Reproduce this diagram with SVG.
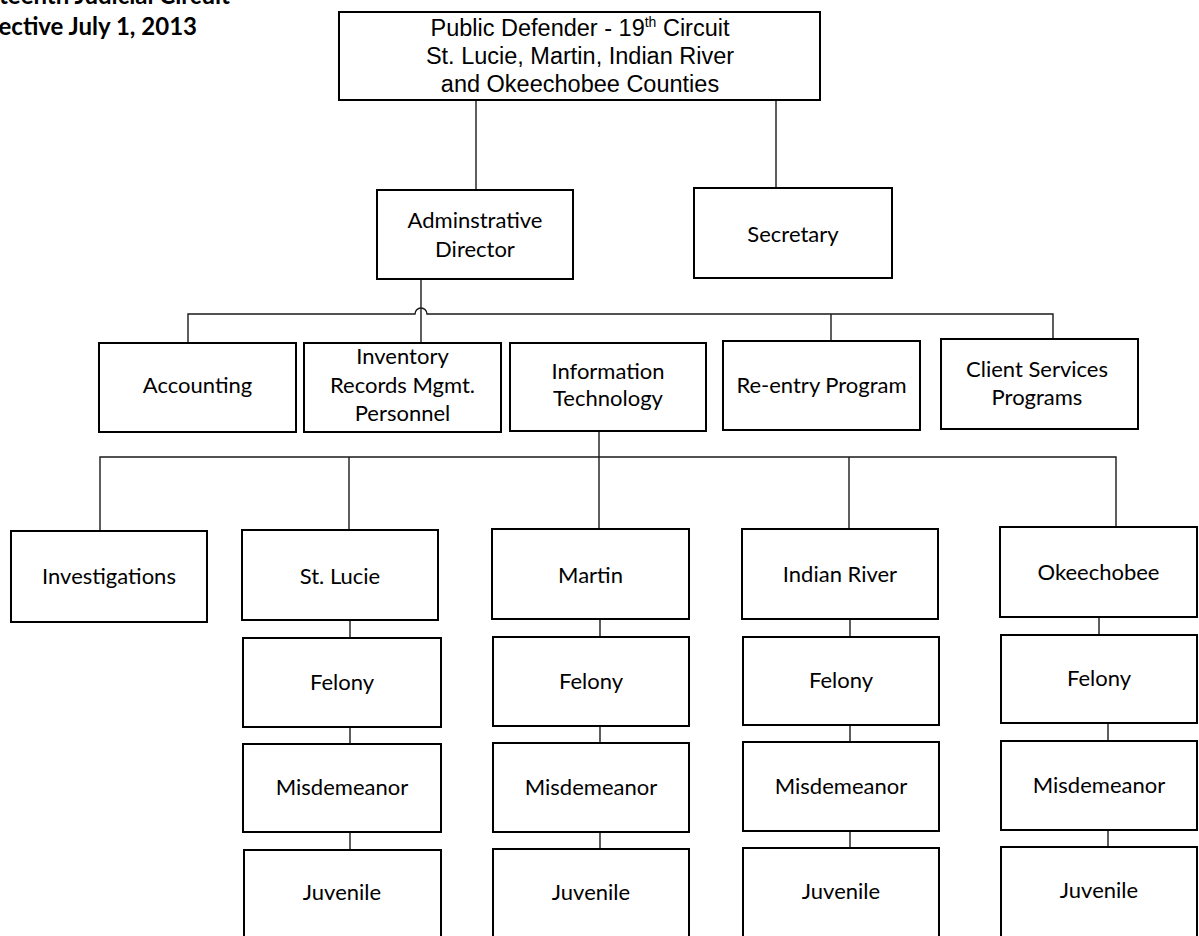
<svg xmlns="http://www.w3.org/2000/svg" width="1199" height="936" viewBox="0 0 1199 936">
  <style>
    .box { fill: #fff; stroke: #000; stroke-width: 2; }
    .lbl { font-family: Lato, "Open Sans", "Liberation Sans", sans-serif; font-size: 22px; fill: #000; text-anchor: middle; }
    .head { font-family: "Liberation Sans", Arial, sans-serif; font-size: 23.5px; fill: #000; text-anchor: middle; }
    .title { font-family: Lato, "Liberation Sans", sans-serif; font-weight: bold; font-size: 24px; fill: #000; text-anchor: end; }
    .wire { fill: none; stroke: #1a1a1a; stroke-width: 1.4; }
  </style>
  <rect width="1199" height="936" fill="#fff"/>

  <!-- heading, partly cut off at the page edge -->
  <g id="title">
    <text class="title" x="230" y="4">Nineteenth Judicial Circuit</text>
    <text class="title" x="197" y="35">Effective July 1, 2013</text>
  </g>

  <!-- connectors -->
  <g id="connectors" class="wire">
    <path d="M476 100V190"/>
    <path d="M776 100V188"/>
    <path d="M421 279V343"/>
    <path d="M188 343V314H415A6 6 0 0 1 427 314H1053V339"/>
    <path d="M831 314V341"/>
    <path d="M599 431V457"/>
    <path d="M100 531V457H1116V527"/>
    <path d="M349 457V530"/>
    <path d="M599 457V529"/>
    <path d="M849 457V529"/>
    <path d="M350 620V638M350 727V744M350 832V850"/>
    <path d="M600 619V637M600 726V743M600 832V849"/>
    <path d="M850 619V637M850 725V742M850 831V848"/>
    <path d="M1099 617V635M1108 723V741M1108 830V847"/>
  </g>

  <g id="public-defender">
    <rect class="box" x="339" y="12" width="481" height="88"/>
    <text class="head" x="580" y="36">Public Defender - 19<tspan font-size="14" dy="-9">th</tspan><tspan dy="9"> Circuit</tspan></text>
    <text class="head" x="580" y="64">St. Lucie, Martin, Indian River</text>
    <text class="head" x="580" y="92">and Okeechobee Counties</text>
  </g>

  <g id="admin-director">
    <rect class="box" x="377" y="190" width="196" height="89"/>
    <text class="lbl" x="475" y="228">Adminstrative</text>
    <text class="lbl" x="475" y="257">Director</text>
  </g>

  <g id="secretary">
    <rect class="box" x="694" y="188" width="198" height="90"/>
    <text class="lbl" x="793" y="242">Secretary</text>
  </g>

  <g id="accounting">
    <rect class="box" x="99" y="343" width="197" height="89"/>
    <text class="lbl" x="197.5" y="393">Accounting</text>
  </g>

  <g id="inventory">
    <rect class="box" x="304" y="343" width="197" height="89"/>
    <text class="lbl" x="402.5" y="364">Inventory</text>
    <text class="lbl" x="402.5" y="393">Records Mgmt.</text>
    <text class="lbl" x="402.5" y="421">Personnel</text>
  </g>

  <g id="info-tech">
    <rect class="box" x="510" y="343" width="196" height="88"/>
    <text class="lbl" x="608" y="379">Information</text>
    <text class="lbl" x="608" y="406">Technology</text>
  </g>

  <g id="reentry">
    <rect class="box" x="723" y="341" width="197" height="89"/>
    <text class="lbl" x="821.5" y="393">Re-entry Program</text>
  </g>

  <g id="client-services">
    <rect class="box" x="941" y="339" width="197" height="90"/>
    <text class="lbl" x="1037" y="377">Client Services</text>
    <text class="lbl" x="1037" y="405">Programs</text>
  </g>

  <g id="investigations">
    <rect class="box" x="11" y="531" width="196" height="91"/>
    <text class="lbl" x="109" y="584">Investigations</text>
  </g>

  <g id="st-lucie">
    <rect class="box" x="242" y="530" width="196" height="90"/>
    <text class="lbl" x="340" y="584">St. Lucie</text>
  </g>
  <g id="st-lucie-felony">
    <rect class="box" x="243" y="638" width="198" height="89"/>
    <text class="lbl" x="342" y="690">Felony</text>
  </g>
  <g id="st-lucie-misdemeanor">
    <rect class="box" x="243" y="744" width="198" height="88"/>
    <text class="lbl" x="342" y="795">Misdemeanor</text>
  </g>
  <g id="st-lucie-juvenile">
    <rect class="box" x="244" y="850" width="197" height="92"/>
    <text class="lbl" x="342" y="900">Juvenile</text>
  </g>

  <g id="martin">
    <rect class="box" x="492" y="529" width="197" height="90"/>
    <text class="lbl" x="590.5" y="583">Martin</text>
  </g>
  <g id="martin-felony">
    <rect class="box" x="493" y="637" width="196" height="89"/>
    <text class="lbl" x="591" y="689">Felony</text>
  </g>
  <g id="martin-misdemeanor">
    <rect class="box" x="493" y="743" width="196" height="89"/>
    <text class="lbl" x="591" y="795">Misdemeanor</text>
  </g>
  <g id="martin-juvenile">
    <rect class="box" x="493" y="849" width="196" height="93"/>
    <text class="lbl" x="591" y="900">Juvenile</text>
  </g>

  <g id="indian-river">
    <rect class="box" x="742" y="529" width="196" height="90"/>
    <text class="lbl" x="840" y="582">Indian River</text>
  </g>
  <g id="indian-river-felony">
    <rect class="box" x="743" y="637" width="196" height="88"/>
    <text class="lbl" x="841" y="688">Felony</text>
  </g>
  <g id="indian-river-misdemeanor">
    <rect class="box" x="743" y="742" width="196" height="89"/>
    <text class="lbl" x="841" y="794">Misdemeanor</text>
  </g>
  <g id="indian-river-juvenile">
    <rect class="box" x="743" y="848" width="196" height="94"/>
    <text class="lbl" x="841" y="899">Juvenile</text>
  </g>

  <g id="okeechobee">
    <rect class="box" x="1000" y="527" width="197" height="90"/>
    <text class="lbl" x="1098.5" y="580">Okeechobee</text>
  </g>
  <g id="okeechobee-felony">
    <rect class="box" x="1001" y="635" width="196" height="88"/>
    <text class="lbl" x="1099" y="686">Felony</text>
  </g>
  <g id="okeechobee-misdemeanor">
    <rect class="box" x="1001" y="741" width="196" height="89"/>
    <text class="lbl" x="1099" y="793">Misdemeanor</text>
  </g>
  <g id="okeechobee-juvenile">
    <rect class="box" x="1001" y="847" width="196" height="95"/>
    <text class="lbl" x="1099" y="898">Juvenile</text>
  </g>
</svg>
